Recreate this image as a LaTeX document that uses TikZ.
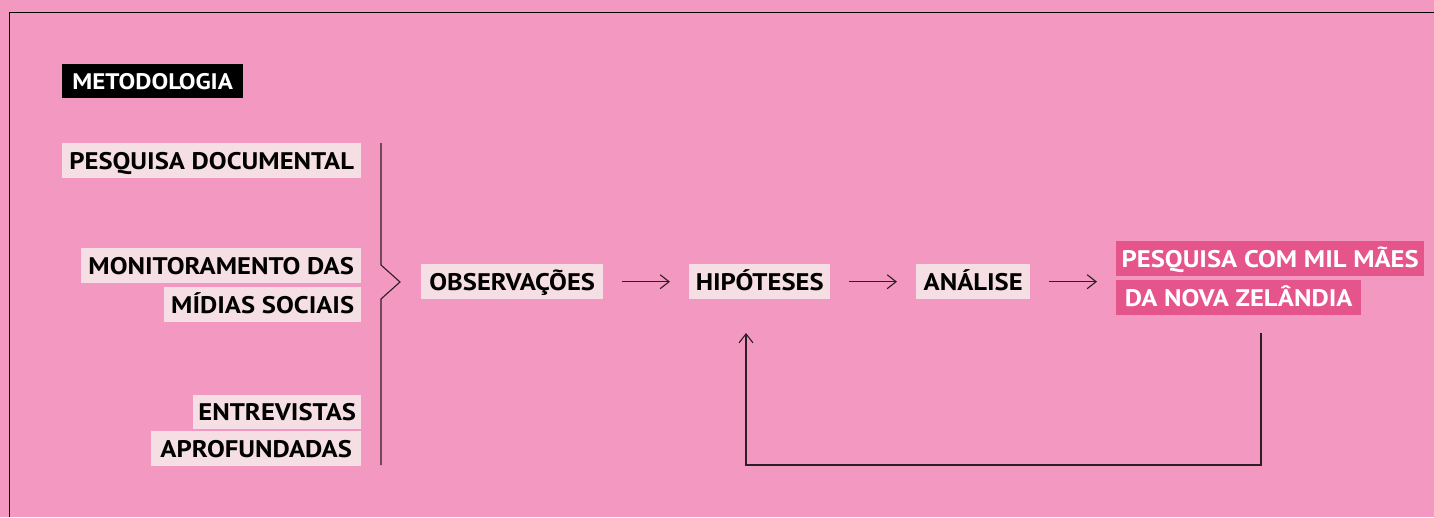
\documentclass[tikz,border=0pt]{standalone}
\usepackage{fontspec}
\setmainfont{PT Sans}[FakeStretch=1.11]
\usetikzlibrary{arrows.meta}
\definecolor{bgpink}{RGB}{243,152,192}
\definecolor{palebox}{RGB}{245,222,228}
\definecolor{hotpink}{RGB}{229,84,138}
\definecolor{inkline}{RGB}{45,30,38}
\tikzset{
  tag/.style={anchor=north west, inner sep=0pt, text height=17pt, text depth=0pt,
    font=\fontsize{24}{24}\selectfont\bfseries},
  palebx/.style={tag, fill=palebox, text=black},
  hotbx/.style={tag, fill=hotpink, text=white},
  titlebx/.style={anchor=north west, inner sep=0pt, text height=16pt, text depth=0pt,
    fill=black, text=white, font=\fontsize{22.5}{22.5}\selectfont\bfseries},
  flow/.style={draw=inkline, line width=1.1pt, -{Straight Barb[length=9pt,width=14pt,line width=1.1pt]}},
  rule/.style={draw=inkline, line width=1.1pt},
}
\begin{document}
\begin{tikzpicture}[x=1pt,y=-1pt]
  \fill[bgpink] (0,0) rectangle (1434,517);
  \useasboundingbox (0,0) rectangle (1434,517);
  % outer frame, open to the right and bottom
  \draw[black, line width=1.5pt] (1434,12.5) -- (9.5,12.5) -- (9.5,517);

  \node[titlebx, minimum width=181pt, minimum height=34pt] (metod) at (62,64) {METODOLOGIA};

  % sources
  \node[palebx, minimum width=299pt, minimum height=35pt] (pd) at (62,143) {PESQUISA DOCUMENTAL};
  \node[palebx, minimum width=280pt, minimum height=35pt] (mon1) at (81,248) {MONITORAMENTO DAS};
  \node[palebx, minimum width=197pt, minimum height=35pt] (mon2) at (164,287) {MÍDIAS SOCIAIS};
  \node[palebx, minimum width=168pt, minimum height=34pt] (ent1) at (193,395) {ENTREVISTAS};
  \node[palebx, minimum width=210pt, minimum height=35pt] (ent2) at (151,431) {APROFUNDADAS};

  % brace joining the sources
  \draw[rule, line join=miter] (381,143) -- (381,265) -- (400,282) -- (381,299) -- (381,465);

  % main flow
  \node[palebx, minimum width=182pt, minimum height=35pt] (obs) at (421,264) {OBSERVAÇÕES};
  \node[palebx, minimum width=141pt, minimum height=35pt] (hip) at (689,264) {HIPÓTESES};
  \node[palebx, minimum width=114pt, minimum height=35pt] (ana) at (916,264) {ANÁLISE};
  \node[hotbx, minimum width=308pt, minimum height=35pt] (res1) at (1116,241) {PESQUISA COM MIL MÃES};
  \node[hotbx, minimum width=245pt, minimum height=35pt] (res2) at (1116,280) {DA NOVA ZELÂNDIA};

  \draw[flow, shorten <=19pt, shorten >=19pt] (obs.east) -- (hip.west);
  \draw[flow, shorten <=19pt, shorten >=19pt] (hip.east) -- (ana.west);
  \draw[flow, shorten <=19pt, shorten >=19pt] (ana.east) -- (ana.east -| res1.west);

  % feedback loop back to the hypotheses
  \coordinate (fbstart) at (1261,333);
  \coordinate (fbcorner) at (1261,465);
  \coordinate (fbend) at (746,333);
  \draw[flow, line join=miter] (fbstart) -- (fbcorner) -| (fbend);
\end{tikzpicture}
\end{document}
